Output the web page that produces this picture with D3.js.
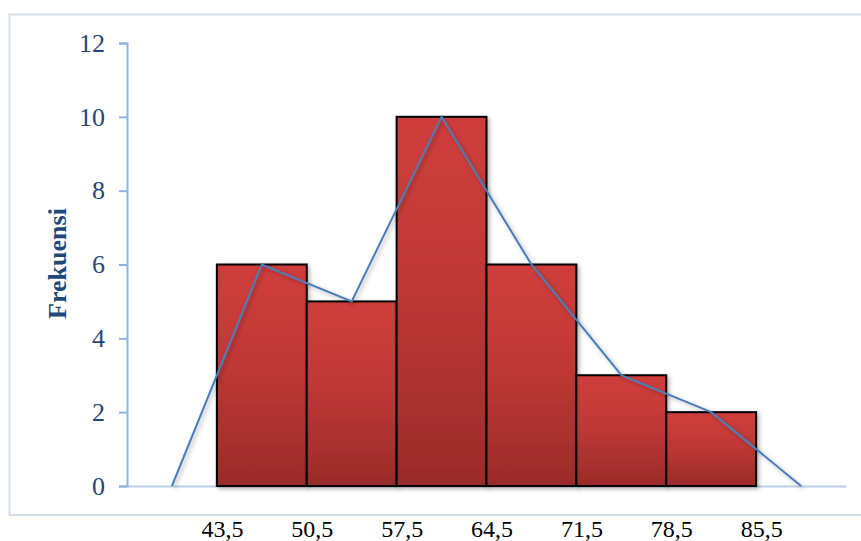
<!DOCTYPE html>
<html>
<head>
<meta charset="utf-8">
<script src="https://cdn.jsdelivr.net/npm/d3@7"></script>
<style>
  html, body { margin: 0; padding: 0; background: #ffffff; }
  svg { display: block; }
</style>
</head>
<body>
<svg id="chart" width="861" height="541"></svg>
<script>
// Class boundaries and frequencies of the histogram
const classEdges = [43.5, 50.5, 57.5, 64.5, 71.5, 78.5, 85.5];
const frequencies = [6, 5, 10, 6, 3, 2];
// Frequency polygon: class midpoints plus an empty class on each side
const polygonX = [40, 47, 54, 61, 68, 75, 82, 89];
const polygonY = [0, 6, 5, 10, 6, 3, 2, 0];
const yTicks = [0, 2, 4, 6, 8, 10, 12];
const xTickLabels = ["43,5", "50,5", "57,5", "64,5", "71,5", "78,5", "85,5"];
const yTitle = "Frekuensi";

const svg = d3.select("#chart");

const x = d3.scaleLinear().domain([36.5, 92.5]).range([127, 846]);
const y = d3.scaleLinear().domain([0, 12]).range([486, 43]);

const defs = svg.append("defs");
const grad = defs.append("linearGradient")
  .attr("id", "barFill").attr("x1", 0).attr("y1", 0).attr("x2", 0).attr("y2", 1);
grad.append("stop").attr("offset", "0%").attr("stop-color", "#CF3E3B");
grad.append("stop").attr("offset", "45%").attr("stop-color", "#C03836");
grad.append("stop").attr("offset", "100%").attr("stop-color", "#9A2B29");

const shadow = defs.append("filter").attr("id", "shadow")
  .attr("x", "-10%").attr("y", "-10%").attr("width", "130%").attr("height", "130%");
shadow.append("feDropShadow").attr("dx", 2).attr("dy", 2)
  .attr("stdDeviation", 2).attr("flood-color", "#000").attr("flood-opacity", 0.3);

// Outer chart frame
svg.append("rect")
  .attr("x", 9.5).attr("y", 14.5).attr("width", 860).attr("height", 500.5)
  .attr("fill", "none").attr("stroke", "#D3E0F0").attr("stroke-width", 2);

// X axis (category edges, no tick marks)
const xAxis = svg.append("g")
  .attr("transform", `translate(0,${y(0)})`)
  .call(d3.axisBottom(x).tickValues(classEdges).tickSize(0)
    .tickFormat((d, i) => xTickLabels[i]));
xAxis.select(".domain").attr("stroke", "#BCD0E8").attr("stroke-width", 2);
xAxis.selectAll("text")
  .attr("y", 51).attr("dy", 0).attr("dx", 5)
  .attr("fill", "#000")
  .style("font-family", "'Liberation Serif', 'Times New Roman', serif")
  .style("font-size", "24px");

// Histogram bars
svg.append("g").selectAll("rect")
  .data(frequencies)
  .join("rect")
  .attr("x", (d, i) => x(classEdges[i]))
  .attr("y", d => y(d))
  .attr("width", (d, i) => x(classEdges[i] + 7) - x(classEdges[i]))
  .attr("height", d => y(0) - y(d))
  .attr("fill", "url(#barFill)")
  .attr("stroke", "#000")
  .attr("stroke-width", 2)
  .attr("filter", "url(#shadow)");

// Y axis
const yAxis = svg.append("g")
  .attr("transform", `translate(${x(36.5)},0)`)
  .call(d3.axisLeft(y).tickValues(yTicks).tickSize(8).tickPadding(14));
yAxis.select(".domain").attr("stroke", "#8DB3E2").attr("stroke-width", 2);
yAxis.selectAll(".tick line").attr("stroke", "#8DB3E2").attr("stroke-width", 2);
yAxis.selectAll("text")
  .attr("fill", "#1F497D")
  .style("font-family", "'Liberation Serif', 'Times New Roman', serif")
  .style("font-size", "26px");

// Frequency polygon
const line = d3.line().x(d => x(d[0])).y(d => y(d[1]));
svg.append("path")
  .datum(polygonX.map((v, i) => [v, polygonY[i]]))
  .attr("d", line)
  .attr("fill", "none")
  .attr("stroke", "#4A7EBB")
  .attr("stroke-width", 2)
  .attr("filter", "url(#shadow)");

// Y axis title
svg.append("text")
  .attr("transform", `translate(66,${(y(0) + y(12)) / 2 - 1}) rotate(-90)`)
  .attr("text-anchor", "middle")
  .attr("fill", "#1F497D")
  .style("font-family", "'Liberation Serif', 'Times New Roman', serif")
  .style("font-weight", "bold")
  .style("font-size", "26px")
  .text(yTitle);
</script>
</body>
</html>
